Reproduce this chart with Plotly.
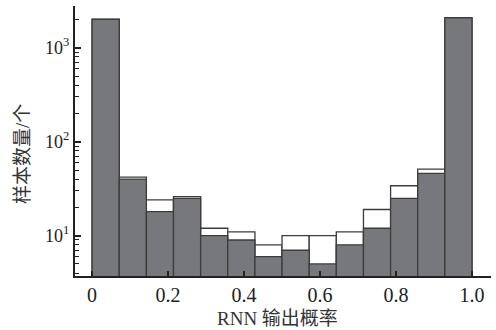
import plotly.graph_objects as go

# Histogram of RNN output probability, 14 bins over [0, 1]
n_bins = 14
bin_centers = [(i + 0.5) / n_bins for i in range(n_bins)]
bin_width = 1.0 / n_bins

# White (outline) bars - total counts
white_counts = [2020, 42, 24, 26, 12, 11, 8, 10, 10, 11, 19, 34, 51, 2090]
# Gray filled bars
gray_counts = [2000, 40, 18, 25, 10, 9, 6, 7, 5, 8, 12, 25, 46, 2080]

x_tickvals = [0, 0.2, 0.4, 0.6, 0.8, 1.0]
x_ticktext = ["0", "0.2", "0.4", "0.6", "0.8", "1.0"]

y_tickvals = [10, 100, 1000]
y_ticktext = ["10<sup>1</sup>", "10<sup>2</sup>", "10<sup>3</sup>"]
y_minor_vals = [m * d for d in (1, 10, 100, 1000) for m in range(2, 10) if 3 < m * d < 2800]

x_title = "RNN 输出概率"
y_title = "样本数量/个"

edge = "#3c3c3c"
serif = "Liberation Serif, Times New Roman, serif"
cjk = "Liberation Serif, Noto Sans CJK SC, serif"

fig = go.Figure()
fig.add_trace(go.Bar(
    x=bin_centers, y=white_counts, width=bin_width,
    marker=dict(color="white", line=dict(color=edge, width=1.3)),
    showlegend=False,
))
fig.add_trace(go.Bar(
    x=bin_centers, y=gray_counts, width=bin_width,
    marker=dict(color="#77787c", line=dict(color=edge, width=1.3)),
    showlegend=False,
))

fig.update_layout(
    width=496, height=330,
    margin=dict(l=75, r=5, t=6, b=54),
    barmode="overlay",
    plot_bgcolor="white", paper_bgcolor="white",
    font=dict(family=serif, color="#222"),
    xaxis=dict(
        range=[-0.045, 1.05],
        tickvals=x_tickvals, ticktext=x_ticktext,
        ticks="inside", ticklen=5, tickwidth=1.5, tickcolor="#222",
        showline=True, linecolor="#222", linewidth=2,
        showgrid=False, zeroline=False,
        tickfont=dict(family=serif, size=20, color="#222"),
    ),
    yaxis=dict(
        type="log",
        range=[0.571, 3.444],
        tickmode="array", tickvals=y_tickvals, ticktext=y_ticktext,
        ticks="inside", ticklen=6, tickwidth=1.5, tickcolor="#222",
        minor=dict(ticks="inside", ticklen=4, tickmode="array", tickvals=y_minor_vals,
                   tickcolor="#222", tickwidth=1.2, showgrid=False),
        showline=True, linecolor="#222", linewidth=2,
        showgrid=False, zeroline=False,
        tickfont=dict(family=serif, size=18, color="#222"),
    ),
    annotations=[
        dict(text=x_title, xref="paper", yref="paper", x=0.486, y=-0.156,
             xanchor="center", yanchor="middle", showarrow=False,
             font=dict(family=cjk, size=19, color="#333")),
        dict(text=y_title, xref="paper", yref="paper", x=-0.125, y=0.452,
             xanchor="center", yanchor="middle", showarrow=False, textangle=-90,
             font=dict(family=cjk, size=19, color="#333")),
    ],
)

fig.write_html("out.html")
